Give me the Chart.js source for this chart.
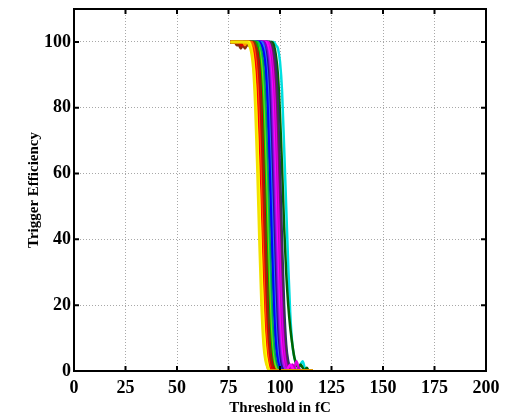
<!DOCTYPE html>
<html>
<head>
<meta charset="utf-8">
<script src="https://cdn.jsdelivr.net/npm/chart.js@4/dist/chart.umd.min.js"></script>
<style>
  html, body { margin: 0; padding: 0; background: #fff; }
  #eff { display: block; }
</style>
</head>
<body>
<canvas id="eff" width="510" height="414"></canvas>
<script>
// threshold scan points (fC), one efficiency value (%) per point and channel
var thresholds = [
   76,  77,  78,  79,  80,  81,  82,  83,  84,  85,
   86,  87,  88,  89,  90,  91,  92,  93,  94,  95,
   96,  97,  98,  99, 100, 101, 102, 103, 104, 105,
  106, 107, 108, 109, 110, 111, 112, 113, 114, 115,
  116
];

var xTicks = [0, 25, 50, 75, 100, 125, 150, 175, 200];
var yTicks = [0, 20, 40, 60, 80, 100];

var ch01 = [100,100,100,100,100,100,100,100,100, 99,  97, 92, 80, 61, 39, 20,  8,  3,  1,  0,   0,0,0,0,0,0,0,0,0,0,  0,0,0,0,0,0,0,0,0,0, 0];
var ch02 = [100,100,100,100,100,100,100,100,100,100,  98, 94, 85, 70, 51, 31, 15,  6,  2,  0,   0,0,0,0,0,0,0,0,0,0,  0,0,0,0,0,0,0,0,0,0, 0];
var ch03 = [100,100,100,100,100,100,100, 99,100,100,  99, 95, 87, 71, 50, 29, 13,  5,  1,  0,   0,0,0,0,0,0,0,0,0,0,  0,0,0,0,0,0,0,0,0,0, 0];
var ch04 = [100,100,100,100,100,100,100,100,100,100,  99, 97, 92, 80, 61, 39, 20,  8,  3,  1,   0,0,0,0,0,0,0,0,0,0,  0,0,0,0,0,0,0,0,0,0, 0];
var ch05 = [100,100,100,100,100,100,100,100,100,100, 100, 99, 95, 87, 71, 50, 29, 13,  5,  1,   0,0,0,0,0,0,0,0,0,0,  0,0,0,0,0,0,0,0,0,0, 0];
var ch06 = [100,100,100,100,100, 99, 99,100,100,100, 100, 99, 97, 92, 80, 61, 39, 20,  8,  3,   1,0,0,0,0,0,0,0,0,0,  0,0,0,0,0,0,0,0,0,0, 0];
var ch07 = [100,100,100, 99, 99, 98, 99, 98, 99, 99,  99,100, 99, 95, 87, 71, 50, 29, 13,  5,   1,0,0,0,0,0,0,0,0,0,  0,0,0,0,0,0,0,0,0,0, 0];
var ch08 = [100,100,100,100,100,100,100,100,100,100, 100,100, 99, 94, 86, 70, 50, 30, 14,  5,   1,0,0,0,0,0,0,0,0,0,  0,0,0,0,0,0,0,0,0,0, 0];
var ch09 = [100,100,100,100,100,100,100,100,100,100, 100,100, 99, 97, 92, 80, 61, 39, 20,  8,   3,1,0,0,0,0,0,0,0,0,  0,0,0,0,0,0,0,0,0,0, 0];
var ch10 = [100,100,100,100,100,100, 99, 99, 99,100, 100,100,100, 99, 95, 87, 71, 50, 29, 13,   5,1,0,0,0,0,0,0,0,0,  0,0,0,0,0,0,0,0,0,0, 0];
var ch11 = [100,100,100,100,100,100,100,100,100,100, 100,100,100, 99, 97, 92, 80, 61, 39, 20,   8,3,1,0,0,0,0,0,0,0,  0,0,0,0,0,0,0,0,0,0, 0];
var ch12 = [100,100,100,100,100,100,100,100,100,100, 100,100,100,100, 99, 95, 87, 71, 50, 29,  13,5,1,0,0,0,0,0,0,0,  0,0,0,0,0,0,0,0,0,0, 0];
var ch13 = [100,100,100,100,100,100, 99, 99,100,100, 100,100,100,100, 99, 97, 92, 80, 61, 39,  20,8,3,1,0,0,0,0,0,0,  0,0,0,0,0,0,0,0,0,0, 0];
var ch14 = [100,100,100,100,100,100,100,100,100,100, 100,100,100,100,100, 99, 97, 92, 80, 61,  39,20,8,3,1,0,0,0,0,0,  0,0,0,0,0,0,0,0,0,0, 0];
var ch15 = [100,100,100,100,100,100,100,100,100,100, 100,100,100,100,100,100, 99, 95, 87, 71,  50,29,13,5,1,0,0,0,0,0,  0,0,0,0,0,0,0,0,0,0, 0];
var ch16 = [100,100,100,100,100,100,100,100,100,100, 100,100,100,100,100,100, 99, 97, 92, 80,  61,39,20,8,3,1,0,0,0,0,  0,0,0,0,0,0,0,0,0,0, 0];
var ch17 = [100,100,100,100,100,100,100,100,100,100, 100,100,100,100,100,100,100, 99, 95, 87,  71,50,29,13,5,1,0,0,0,0,  0,0,0,0,0,0,0,0,0,0, 0];
var ch18 = [100,100,100,100,100,100,100,100,100,100, 100,100,100,100,100,100,100, 99, 97, 92,  80,61,39,20,8,3,1,0,0,0,  0,0,0,0,0,0,0,0,0,0, 0];
var ch19 = [100,100,100,100,100,100,100,100,100,100, 100,100,100,100,100,100,100,100, 99, 95,  87,71,50,29,13,5,1,0,1,2,  1,0,0,0,0,0,0,0,0,0, 0];
var ch20 = [100,100,100,100,100,100,100,100,100,100, 100,100,100,100,100,100,100,100, 99, 97,  92,80,61,39,20,8,3,1,0,0,  2,1,0,1,0,0,0,0,0,0, 0];
var ch21 = [100,100,100,100,100,100,100,100,100,100, 100,100,100,100,100,100,100,100,100, 99,  95,87,71,50,29,13,5,1,0,0,  0,1,3,1,0,0,0,0,0,0, 0];
var ch22 = [100,100,100,100,100,100,100,100,100,100, 100,100,100,100,100,100,100,100,100, 98,  93,84,68,50,32,16,6,2,0,0,  0,0,0,0,0,0,0,0,0,0, 0];
var ch23 = [100,100,100,100,100,100,100,100,100,100, 100,100,100,100,100,100,100,100,100, 99,  97,92,80,61,39,20,8,3,1,0,  0,0,0,0,0,0,0,0,0,0, 0];
var ch24 = [100,100,100,100,100,100,100,100,100,100, 100,100,100,100,100,100,100,100,100,100,  99,95,87,71,50,29,13,5,1,0,  0,0,0,0,0,0,0,0,0,0, 0];
var ch25 = [100,100,100,100,100,100,100,100,100,100, 100,100,100,100,100,100,100,100,100,100,  99,97,92,80,61,39,20,8,3,1,  0,0,0,0,0,0,0,0,0,0, 0];
var ch26 = [100,100,100,100,100,100,100,100,100,100, 100,100,100,100,100,100,100,100,100,100, 100,99,96,90,78,62,44,30,20,13, 8,4,2,1,2,1,0,1,0,0, 0];
var ch27 = [100,100,100,100,100,100,100,100,100,100, 100,100,100,100,100,100,100,100,100,100, 100,100,99,98,94,85,68,50,32,17, 8,4,2,1,2,3,1,0,0,0, 0];

var channels = [ch01, ch02, ch03, ch04, ch05, ch06, ch07, ch08, ch09, ch10,
                ch11, ch12, ch13, ch14, ch15, ch16, ch17, ch18, ch19, ch20,
                ch21, ch22, ch23, ch24, ch25, ch26, ch27];

var lineColors = [
  "#f2e200", "#ffff00", "#ff9900", "#ff0000", "#ff5a00", "#dd0000", "#8b2e0b",
  "#00a000", "#c00000", "#00b400", "#7fe000", "#00c060", "#008a5a", "#0000ff",
  "#2a6cff", "#1a1a8c", "#7a00c8", "#a020f0", "#ff00ff", "#c000c0", "#e000e0",
  "#9400d3", "#800080", "#404040", "#2b2b70", "#006400", "#00e0e0"
];

var fonts = "'Liberation Serif', 'Times New Roman', serif";

// matlab style frame: full box with inward tick marks on all four sides
var axisBox = {
  id: "axisBox",
  afterDatasetsDraw: function (chart) {
    var ctx = chart.ctx, a = chart.chartArea
      , x = chart.scales.x, y = chart.scales.y
      , len = 5;
    ctx.save();
    ctx.strokeStyle = "#000";
    ctx.lineWidth = 2;
    ctx.beginPath();
    xTicks.forEach(function (v) {
      var px = x.getPixelForValue(v);
      ctx.moveTo(px, a.bottom); ctx.lineTo(px, a.bottom - len);
      ctx.moveTo(px, a.top);    ctx.lineTo(px, a.top + len);
    });
    yTicks.forEach(function (v) {
      var py = y.getPixelForValue(v);
      ctx.moveTo(a.left, py);  ctx.lineTo(a.left + len, py);
      ctx.moveTo(a.right, py); ctx.lineTo(a.right - len, py);
    });
    ctx.stroke();
    ctx.strokeRect(a.left, a.top, a.right - a.left, a.bottom - a.top);
    ctx.restore();
  }
};

var datasets = channels.map(function (vals, i) {
  return {
    label: "ch" + (i + 1),
    data: thresholds.map(function (t, j) { return { x: t, y: vals[j] }; }),
    borderColor: lineColors[i],
    backgroundColor: lineColors[i],
    borderWidth: 2.5,
    pointRadius: 0,
    fill: false,
    cubicInterpolationMode: "monotone"
  };
});

var gridStyle = {
  color: "#a8a8a8",
  lineWidth: 1,
  drawTicks: false
};

new Chart(document.getElementById("eff").getContext("2d"), {
  type: "line",
  data: { datasets: datasets },
  plugins: [axisBox],
  options: {
    responsive: false,
    animation: false,
    layout: { padding: { top: 9, right: 24, left: 0, bottom: 0 } },
    plugins: {
      legend: { display: false },
      tooltip: { enabled: false }
    },
    scales: {
      x: {
        type: "linear",
        min: 0,
        max: 200,
        afterBuildTicks: function (axis) {
          axis.ticks = xTicks.map(function (v) { return { value: v }; });
        },
        afterFit: function (scale) { scale.height = 43; },
        grid: gridStyle,
        border: { display: false, dash: [1, 2] },
        ticks: {
          color: "#000",
          padding: 7,
          maxRotation: 0,
          font: { family: fonts, size: 18, weight: "bold" }
        },
        title: {
          display: true,
          text: "Threshold in fC",
          color: "#000",
          padding: { top: 0, bottom: -2 },
          font: { family: fonts, size: 15, weight: "bold", lineHeight: 1 }
        }
      },
      y: {
        type: "linear",
        min: 0,
        max: 110,
        afterBuildTicks: function (axis) {
          axis.ticks = yTicks.map(function (v) { return { value: v }; });
        },
        afterFit: function (scale) { scale.width = 74; },
        grid: gridStyle,
        border: { display: false, dash: [1, 2] },
        ticks: {
          color: "#000",
          padding: 3,
          // small line height so the 100 label does not push the plot top down
          font: { family: fonts, size: 18, weight: "bold", lineHeight: 0.5 }
        },
        title: {
          display: true,
          text: "Trigger Efficiency",
          color: "#000",
          padding: { top: 25, bottom: 0 },
          font: { family: fonts, size: 15, weight: "bold" }
        }
      }
    }
  }
});
</script>
</body>
</html>
